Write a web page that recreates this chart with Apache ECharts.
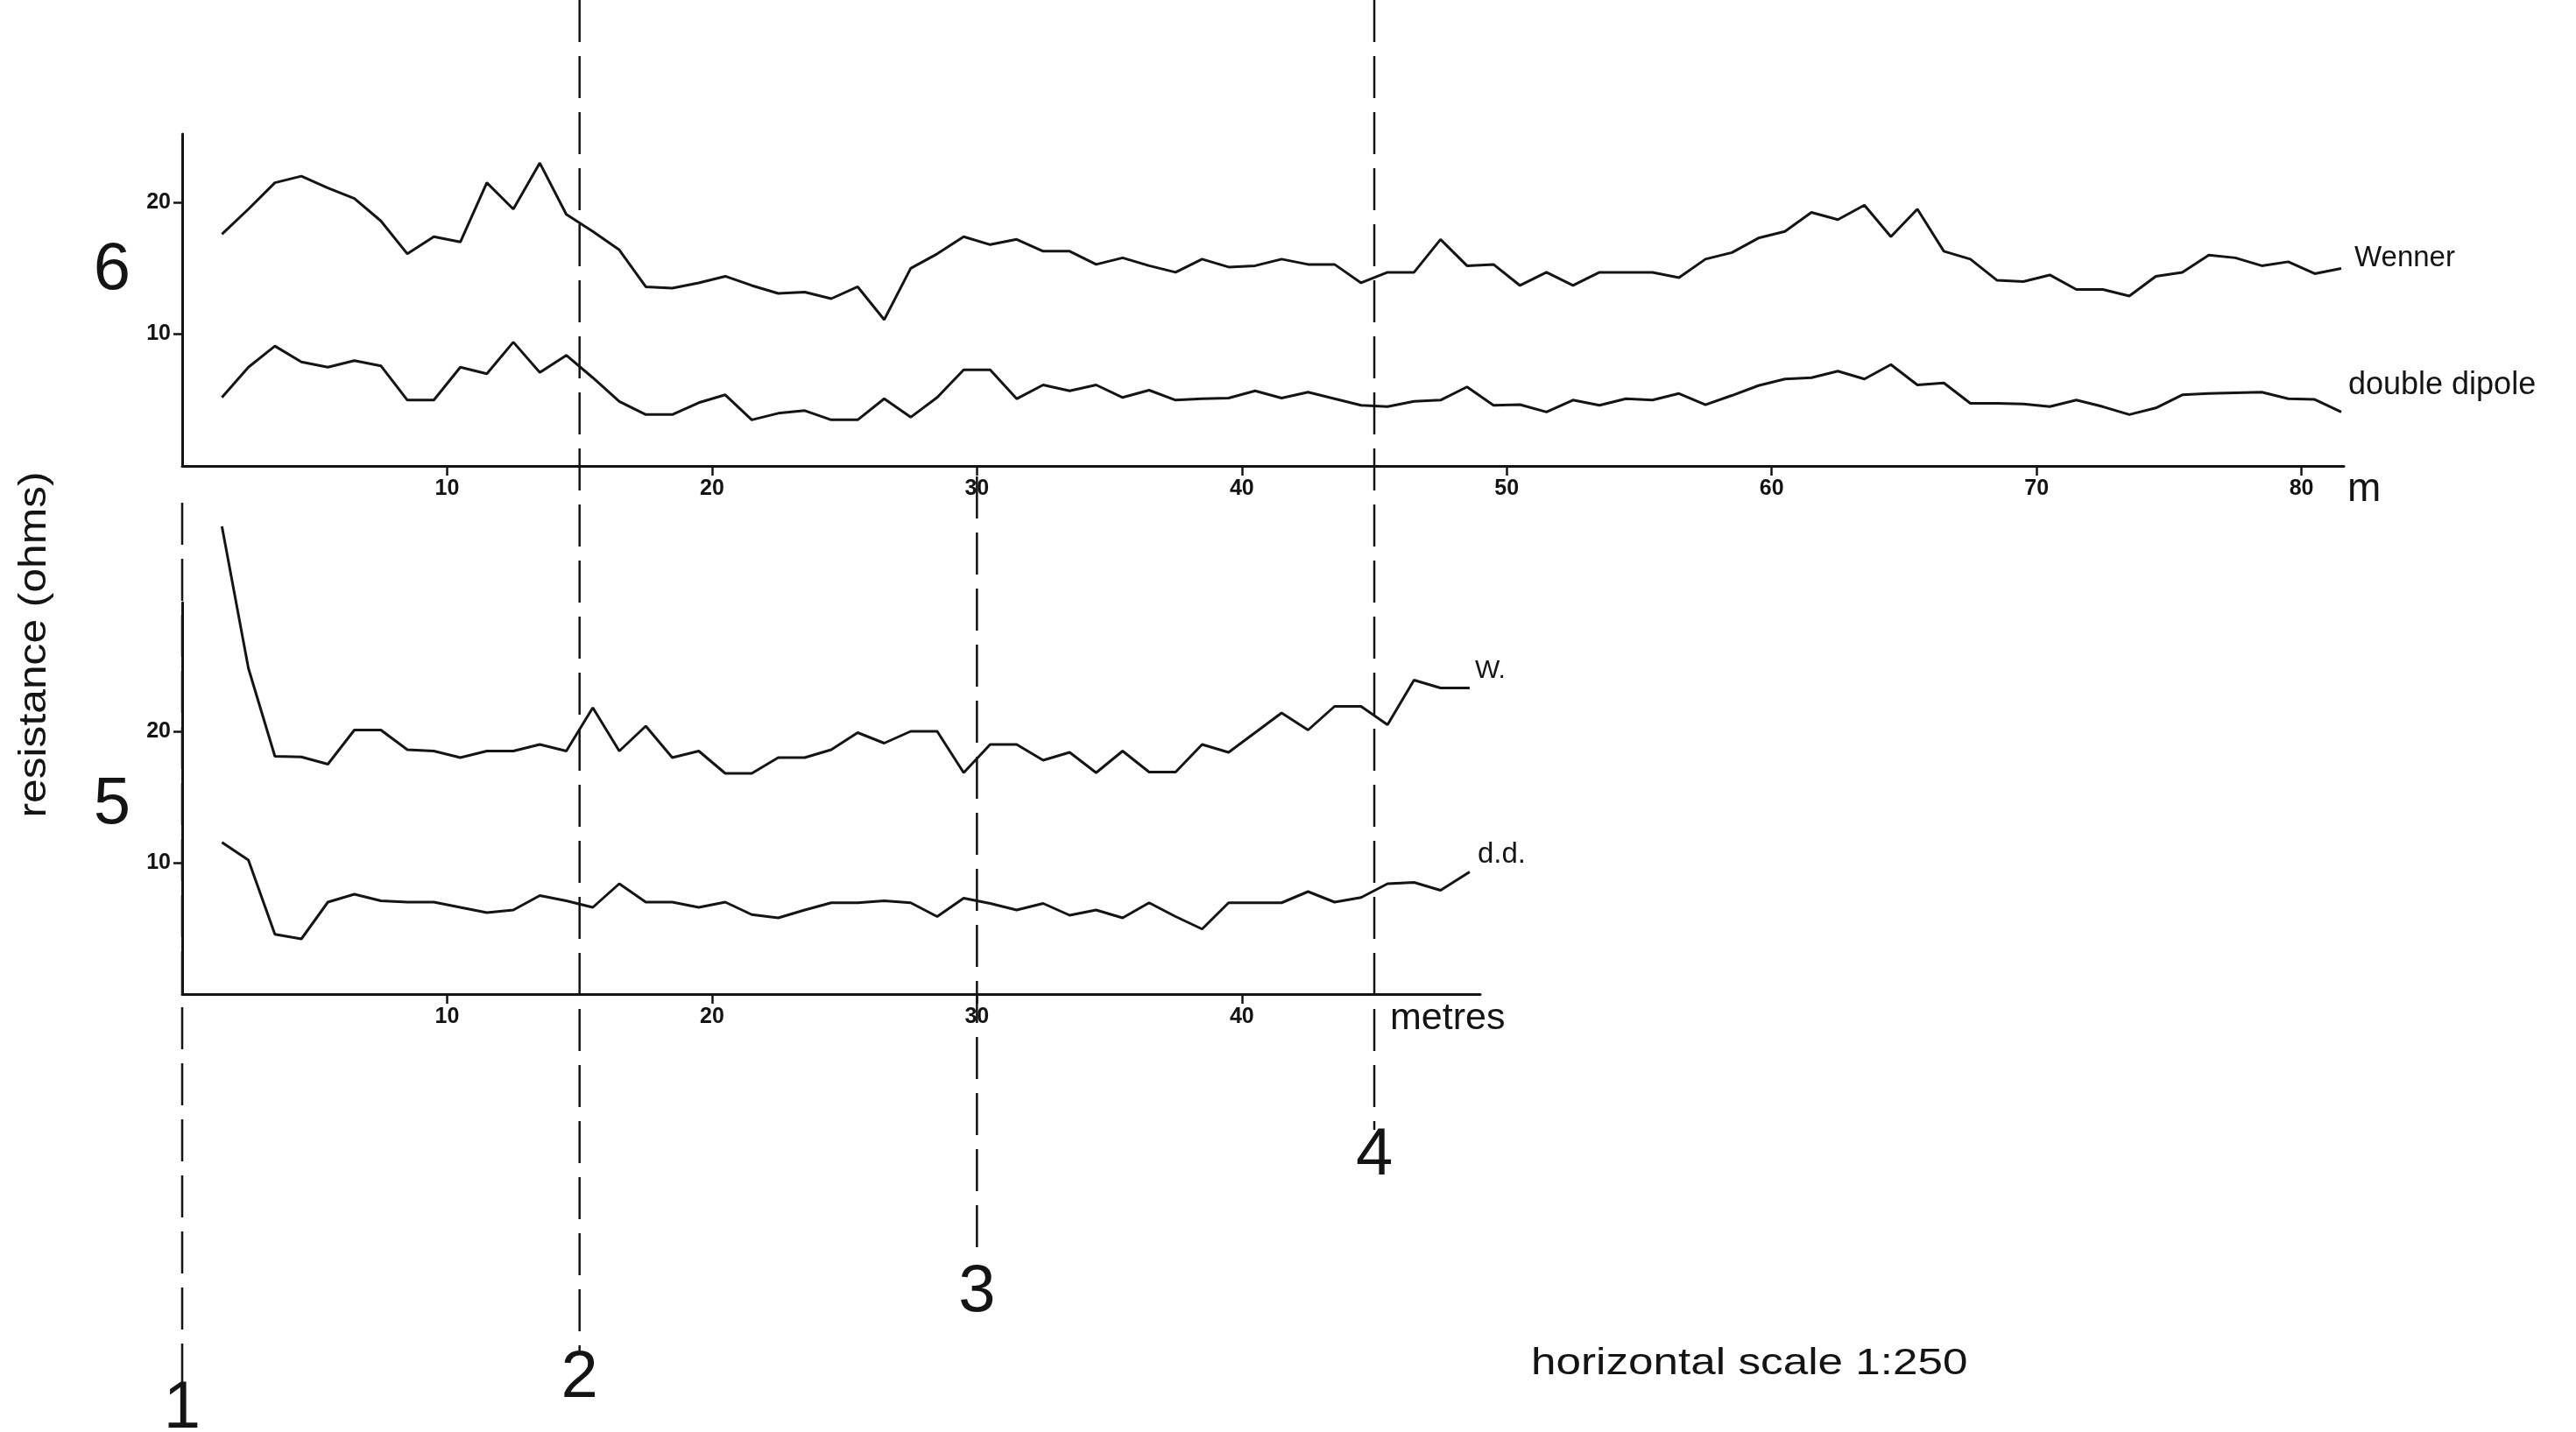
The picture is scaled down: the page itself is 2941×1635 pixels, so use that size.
<!DOCTYPE html>
<html><head><meta charset="utf-8">
<script src="https://cdn.jsdelivr.net/npm/echarts@6/dist/echarts.min.js"></script>
<style>html,body{margin:0;padding:0;background:#fff;}#c{width:2941px;height:1635px;}</style>
</head><body><div id="c"></div>
<script>
// ---- data (metres along traverse, resistance in ohms) ----
const xTop = [1.5,2.5,3.5,4.5,5.5,6.5,7.5,8.5,9.5,10.5,11.5,12.5,13.5,14.5,15.5,16.5,17.5,18.5,19.5,20.5,
  21.5,22.5,23.5,24.5,25.5,26.5,27.5,28.5,29.5,30.5,31.5,32.5,33.5,34.5,35.5,36.5,37.5,38.5,39.5,40.5,
  41.5,42.5,43.5,44.5,45.5,46.5,47.5,48.5,49.5,50.5,51.5,52.5,53.5,54.5,55.5,56.5,57.5,58.5,59.5,60.5,
  61.5,62.5,63.5,64.5,65.5,66.5,67.5,68.5,69.5,70.5,71.5,72.5,73.5,74.5,75.5,76.5,77.5,78.5,79.5,80.5,81.5];
const wennerTop = [17.6,19.5,21.5,22.0,21.1,20.3,18.6,16.1,17.4,17.0,
  21.5,19.5,23.0,19.1,17.8,16.4,13.6,13.5,13.9,14.4,
  13.7,13.1,13.2,12.7,13.6,11.1,15.0,16.1,17.4,16.8,
  17.2,16.3,16.3,15.3,15.8,15.2,14.7,15.7,15.1,15.2,
  15.7,15.3,15.3,13.9,14.7,14.7,17.2,15.2,15.3,13.7,
  14.7,13.7,14.7,14.7,14.7,14.3,15.7,16.2,17.3,17.8,
  19.25,18.7,19.8,17.4,19.5,16.3,15.7,14.1,14.0,14.5,
  13.4,13.4,12.9,14.4,14.7,16.0,15.8,15.2,15.5,14.6,15.0];
const dipoleTop = [5.2,7.5,9.1,7.9,7.5,8.0,7.6,5.0,5.0,7.5,
  7.0,9.4,7.1,8.4,6.7,4.9,3.9,3.9,4.8,5.4,
  3.5,4.0,4.2,3.5,3.5,5.1,3.7,5.2,7.3,7.3,
  5.1,6.15,5.7,6.15,5.2,5.75,5.0,5.1,5.15,5.7,
  5.15,5.6,5.1,4.6,4.5,4.9,5.0,6.0,4.6,4.65,
  4.1,5.0,4.6,5.1,5.0,5.5,4.65,5.35,6.1,6.6,
  6.7,7.2,6.6,7.7,6.15,6.3,4.75,4.75,4.7,4.5,
  5.0,4.5,3.9,4.4,5.4,5.5,5.55,5.6,5.1,5.05,4.1];

const xBottom = [1.5,2.5,3.5,4.5,5.5,6.5,7.5,8.5,9.5,10.5,11.5,12.5,13.5,14.5,15.5,16.5,17.5,18.5,19.5,20.5,
  21.5,22.5,23.5,24.5,25.5,26.5,27.5,28.5,29.5,30.5,31.5,32.5,33.5,34.5,35.5,36.5,37.5,38.5,39.5,40.5,
  41.5,42.5,43.5,44.5,45.5,46.5,47.5,48.6];
const wennerBottom = [35.6,24.8,18.1,18.05,17.5,20.1,20.1,18.6,18.5,18.0,
  18.5,18.5,19.0,18.5,21.8,18.5,20.4,18.0,18.5,16.8,
  16.8,18.0,18.0,18.6,19.9,19.1,20.0,20.0,16.85,19.0,
  19.0,17.8,18.4,16.85,18.5,16.9,16.9,19.0,18.4,19.9,
  21.4,20.1,21.9,21.9,20.5,23.9,23.3,23.3];
const dipoleBottom = [11.55,10.2,4.55,4.2,7.0,7.6,7.1,7.0,7.0,6.6,
  6.2,6.4,7.5,7.1,6.6,8.4,7.0,7.0,6.6,7.0,
  6.05,5.8,6.4,6.95,6.95,7.1,6.95,5.9,7.3,6.9,
  6.4,6.9,6.0,6.4,5.8,6.95,5.9,4.95,6.95,6.95,
  6.95,7.8,7.0,7.35,8.4,8.5,7.9,9.3];

const xTicksTop = [10,20,30,40,50,60,70,80];
const xTicksBottom = [10,20,30,40];
const yTicks = [10,20];
const sectionX = [0, 15, 30, 45];
const sectionLabels = ['1','2','3','4'];
const panelLabels = ['6','5'];

// ---- chart ----
const INK = '#141414';
const FONT = "'Liberation Sans', Arial, sans-serif";
const TICKFONT = "'Liberation Sans Narrow', 'Liberation Sans', Arial, sans-serif";
const chart = echarts.init(document.getElementById('c'), null, {renderer: 'canvas'});

function xAxisCfg(grid, max, ticks) {
  return {
    type: 'value', gridIndex: grid, min: 0, max: max, interval: 10,
    axisLine: {show: true, onZero: false, lineStyle: {color: INK, width: 3}},
    axisTick: {show: true, inside: false, length: 11, lineStyle: {color: INK, width: 2.5},
               customValues: ticks},
    axisLabel: {show: true, margin: 14, color: INK, fontSize: 25, fontWeight: 'bold',
                fontFamily: TICKFONT, customValues: ticks},
    splitLine: {show: false}
  };
}
function yAxisCfg(grid, max) {
  return {
    type: 'value', gridIndex: grid, min: 0, max: max, interval: 10,
    axisLine: {show: true, lineStyle: {color: INK, width: 3}},
    axisTick: {show: true, inside: false, length: 10, lineStyle: {color: INK, width: 2.5},
               customValues: yTicks},
    axisLabel: {show: true, margin: 13, color: INK, fontSize: 25, fontWeight: 'bold',
                fontFamily: TICKFONT, customValues: yTicks},
    splitLine: {show: false}
  };
}
function lineSeries(name, xs, ys, xi, label, offset, clip) {
  return {
    type: 'line', name: name, xAxisIndex: xi, yAxisIndex: xi,
    data: xs.map((x, i) => [x, ys[i]]),
    symbol: 'none', smooth: false, clip: clip,
    lineStyle: {color: INK, width: 3},
    endLabel: {show: true, formatter: label.text, distance: 0, offset: offset,
               color: INK, fontSize: label.size, fontFamily: FONT},
    emphasis: {disabled: true}, silent: true
  };
}

chart.setOption({
  backgroundColor: '#ffffff',
  animation: false,
  grid: [
    {left: 208, right: 265, top: 153, bottom: 1103},
    {left: 208, right: 1251, top: 688, bottom: 500}
  ],
  xAxis: [xAxisCfg(0, 81.6, xTicksTop), xAxisCfg(1, 49.0, xTicksBottom)],
  yAxis: [yAxisCfg(0, 25.2), yAxisCfg(1, 29.8)],
  series: [
    lineSeries('Wenner', xTop, wennerTop, 0, {text: 'Wenner', size: 33}, [15, -11], true),
    lineSeries('double dipole', xTop, dipoleTop, 0, {text: 'double dipole', size: 36}, [8, -30], true),
    lineSeries('W.', xBottom, wennerBottom, 1, {text: 'W.', size: 30}, [6, -20], false),
    lineSeries('d.d.', xBottom, dipoleBottom, 1, {text: 'd.d.', size: 33}, [9, -20], false)
  ]
});

// section lines (dashed verticals) positioned through the x scale
const lineExtents = [[574, 1589], [0, 1542], [544, 1440], [0, 1290]];
const labelY = [1609, 1574, 1476, 1320];
const graphics = [];
sectionX.forEach((v, i) => {
  const px = chart.convertToPixel({xAxisIndex: 0}, v);
  graphics.push({
    type: 'line', silent: true,
    shape: {x1: px, y1: lineExtents[i][0], x2: px, y2: lineExtents[i][1]},
    style: {stroke: INK, lineWidth: 2.5, lineDash: [48, 16]}
  });
  graphics.push({
    type: 'text', silent: true, x: px, y: labelY[i],
    style: {text: sectionLabels[i], fill: INK, fontSize: 76, fontFamily: FONT,
            textAlign: 'center', textVerticalAlign: 'middle'}
  });
});
graphics.push(
  {type: 'text', silent: true, x: 128, y: 309,
   style: {text: panelLabels[0], fill: INK, fontSize: 76, fontFamily: FONT, textAlign: 'center', textVerticalAlign: 'middle'}},
  {type: 'text', silent: true, x: 128, y: 919,
   style: {text: panelLabels[1], fill: INK, fontSize: 76, fontFamily: FONT, textAlign: 'center', textVerticalAlign: 'middle'}},
  {type: 'text', silent: true, x: 40, y: 736, rotation: Math.PI / 2, scaleX: 1.13,
   style: {text: 'resistance (ohms)', fill: INK, fontSize: 44, fontFamily: FONT, textAlign: 'center', textVerticalAlign: 'middle'}},
  {type: 'text', silent: true, x: 2680, y: 559,
   style: {text: 'm', fill: INK, fontSize: 46, fontFamily: FONT, textAlign: 'left', textVerticalAlign: 'middle'}},
  {type: 'text', silent: true, x: 1587, y: 1163,
   style: {text: 'metres', fill: INK, fontSize: 43, fontFamily: FONT, textAlign: 'left', textVerticalAlign: 'middle'}},
  {type: 'text', silent: true, x: 1748, y: 1557, scaleX: 1.22,
   style: {text: 'horizontal scale 1:250', fill: INK, fontSize: 42, fontFamily: FONT, textAlign: 'left', textVerticalAlign: 'middle'}}
);
chart.setOption({graphic: graphics});
</script>
</body></html>
